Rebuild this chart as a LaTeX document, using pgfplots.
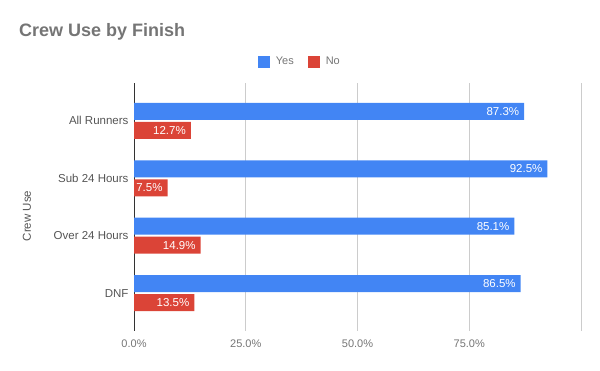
\documentclass[border=0pt]{standalone}
\usepackage{pgfplots}
\pgfplotsset{compat=1.18}
\usepackage{fontspec}
\setmainfont{Liberation Sans}
\definecolor{cblue}{HTML}{4285F4}
\definecolor{cred}{HTML}{DB4437}
\definecolor{tgray}{HTML}{757575}
\definecolor{lgray}{HTML}{555555}
\definecolor{gridc}{HTML}{CCCCCC}
\begin{document}
\begin{tikzpicture}[x=1pt,y=1pt]
\useasboundingbox (0,0) rectangle (600,371);
\node[anchor=base west, font=\bfseries\fontsize{18}{20}\selectfont, text=tgray, inner sep=0] at (19,334) {Crew Use by Finish};
\node[rotate=90, anchor=center, font=\fontsize{11.5}{13}\selectfont, text=lgray, inner sep=0] at (27,155) {Crew Use};
\begin{axis}[
  at={(134pt,40pt)}, anchor=south west,
  scale only axis, width=447pt, height=248pt,
  xbar=2pt, bar width=17pt,
  xmin=0, xmax=100, ymin=-0.66, ymax=3.66,
  ytick={0,1,2,3},
  yticklabels={DNF,Over 24 Hours,Sub 24 Hours,All Runners},
  xtick={0,25,50,75,100},
  xticklabels={0.0\%,25.0\%,50.0\%,75.0\%,},
  xmajorgrids, grid style={draw=gridc, line width=0.8pt},
  major tick length=0pt,
  axis y line*=left, axis x line*=bottom,
  x axis line style={draw=none},
  y axis line style={draw=black!80, line width=0.8pt, -},
  xticklabel style={font=\fontsize{11}{13}\selectfont, text=tgray, yshift=-5pt},
  yticklabel style={font=\fontsize{11.5}{13}\selectfont, text=lgray, xshift=-2pt},
  legend columns=2,
  legend style={at={(0.371,1.085)}, anchor=center, draw=none, fill=none,
    font=\fontsize{11}{13}\selectfont, text=tgray,
    /tikz/every even column/.append style={column sep=12pt}},
  nodes near coords={\pgfmathprintnumber[fixed,fixed zerofill,precision=1,assume math mode=true]{\pgfplotspointmeta}\%},
  point meta=x,
  every node near coord/.append style={anchor=east, xshift=-1.5pt, text=white, font=\fontsize{11.5}{13}\selectfont},
]
\addplot[fill=cblue, draw=none, bar shift=9.5pt, legend image code/.code={\fill[cblue] (0pt,-6pt) rectangle (12pt,6pt); \path (16pt,0pt);}]
  coordinates {(87.3,3) (92.5,2) (85.1,1) (86.5,0)};
\addplot[fill=cred, draw=none, bar shift=-9.5pt, legend image code/.code={\fill[cred] (0pt,-6pt) rectangle (12pt,6pt); \path (16pt,0pt);}]
  coordinates {(12.7,3) (7.5,2) (14.9,1) (13.5,0)};
\legend{Yes,No}
\end{axis}
\end{tikzpicture}
\end{document}
